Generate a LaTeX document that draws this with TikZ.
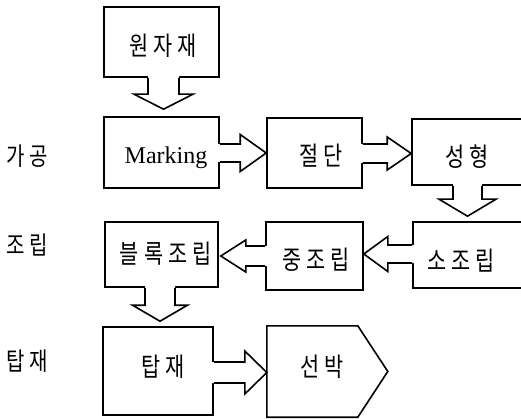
\documentclass[tikz,border=0pt]{standalone}
\usepackage{fontspec}
\setmainfont{Liberation Serif}
\newfontfamily\kr[LetterSpace=20, FakeStretch=0.8]{Noto Sans CJK KR}
\usetikzlibrary{calc}
\tikzset{
  ln/.style={line width=1.6pt, line join=miter},
  box/.style={ln, draw, rectangle, inner sep=0pt},
  krtext/.style={font=\kr\fontsize{26}{26}\selectfont},
  side/.style={font=\kr\fontsize{25}{25}\selectfont, inner sep=0pt},
}
% vertical block arrow: #1 start (on box edge), #2 tip, #3 shaft half, #4 head half, #5 head length
\newcommand{\vblock}[5]{%
  \fill[white] let \p1=(#1), \p2=(#2) in
    (\x1-#3pt,\y1+1.6pt) -- (\x1-#3pt,\y2+#5pt) -- (\x1-#4pt,\y2+#5pt) -- (\x1,\y2)
    -- (\x1+#4pt,\y2+#5pt) -- (\x1+#3pt,\y2+#5pt) -- (\x1+#3pt,\y1+1.6pt) -- cycle;
  \draw[ln] let \p1=(#1), \p2=(#2) in
    (\x1-#3pt,\y1) -- (\x1-#3pt,\y2+#5pt) -- (\x1-#4pt,\y2+#5pt) -- (\x1,\y2)
    -- (\x1+#4pt,\y2+#5pt) -- (\x1+#3pt,\y2+#5pt) -- (\x1+#3pt,\y1);
}
% horizontal block arrow: #5 signed head length (+ right, - left), #6 signed overlap
\newcommand{\hblock}[6]{%
  \fill[white] let \p1=(#1), \p2=(#2) in
    (\x1-#6pt,\y1+#3pt) -- (\x2-#5pt,\y1+#3pt) -- (\x2-#5pt,\y1+#4pt) -- (\x2,\y1)
    -- (\x2-#5pt,\y1-#4pt) -- (\x2-#5pt,\y1-#3pt) -- (\x1-#6pt,\y1-#3pt) -- cycle;
  \draw[ln] let \p1=(#1), \p2=(#2) in
    (\x1,\y1+#3pt) -- (\x2-#5pt,\y1+#3pt) -- (\x2-#5pt,\y1+#4pt) -- (\x2,\y1)
    -- (\x2-#5pt,\y1-#4pt) -- (\x2-#5pt,\y1-#3pt) -- (\x1,\y1-#3pt);
}
\begin{document}
\begin{tikzpicture}[x=1pt,y=-1pt]
\clip (0,0) rectangle (521,419);
\fill[white] (0,0) rectangle (521,419);

% boxes
\node[box, minimum width=115pt, minimum height=70pt] (raw) at (161.5,42) {};
\node[box, minimum width=115pt, minimum height=71pt] (mark) at (161.5,152.5) {};
\node[box, minimum width=95pt, minimum height=70pt] (cut) at (314.5,153) {};
\node[box, minimum width=118pt, minimum height=66pt] (form) at (471,152) {};
\node[box, minimum width=117pt, minimum height=66pt] (small) at (471.5,255) {};
\node[box, minimum width=97pt, minimum height=68pt] (mid) at (314.5,256) {};
\node[box, minimum width=113pt, minimum height=65pt] (block) at (161.5,254.5) {};
\node[box, minimum width=110pt, minimum height=88pt] (load) at (158,371) {};
\node[minimum width=108pt, minimum height=91pt, inner sep=0pt] (ship) at (321,371.5) {};
\draw[ln] (ship.north west) -- ($(ship.north west)+(91,0)$) -- ($(ship.west)+(121,0)$)
  -- ($(ship.south west)+(91,0)$) -- (ship.south west) -- cycle;

% texts
\node[krtext] (traw) at (163,46) {원자재};
\node[font=\fontsize{24}{24}\selectfont] (tmark) at (166,158) {Marking};
\node[krtext] (tcut) at (321,156) {절단};
\node[krtext] (tform) at (467,157) {성형};
\node[krtext] (tsmall) at (461,261) {소조립};
\node[krtext] (tmid) at (316,260) {중조립};
\node[krtext] (tblock) at (166,254) {블록조립};
\node[krtext] (tload) at (163,367) {탑재};
\node[krtext] (tship) at (322,367) {선박};

% side labels
\node[side] (s1) at (27,156) {가공};
\node[side] (s2) at (27,245) {조립};
\node[side] (s3) at (27,361) {탑재};

% block arrows
\vblock{$(raw.south)+(2,0)$}{$(mark.north)+(2,-7)$}{15.5}{29.5}{15}
\hblock{$(mark.east)+(0,0.5)$}{$(cut.west)+(0,0)$}{9}{18.5}{26}{1.6}
\hblock{$(cut.east)+(0,0.5)$}{$(form.west)+(0,1.5)$}{9.5}{16.5}{24}{1.6}
\vblock{$(form.south)+(-3.5,0)$}{$(small.north)+(-4,-5)$}{14.5}{28.5}{17}
\hblock{$(small.west)+(0,-1)$}{$(mid.east)+(0,-2)$}{9}{17.5}{-24}{-1.6}
\hblock{$(mid.west)+(0,0)$}{$(block.east)+(2,1.5)$}{10}{16}{-25}{-1.6}
\vblock{$(block.south)+(-1.5,0)$}{$(load.north)+(2,-5)$}{15}{27.5}{16}
\hblock{$(load.east)+(0,1.5)$}{$(ship.west)+(0,1)$}{10.5}{21.5}{22}{1.6}
\end{tikzpicture}
\end{document}
